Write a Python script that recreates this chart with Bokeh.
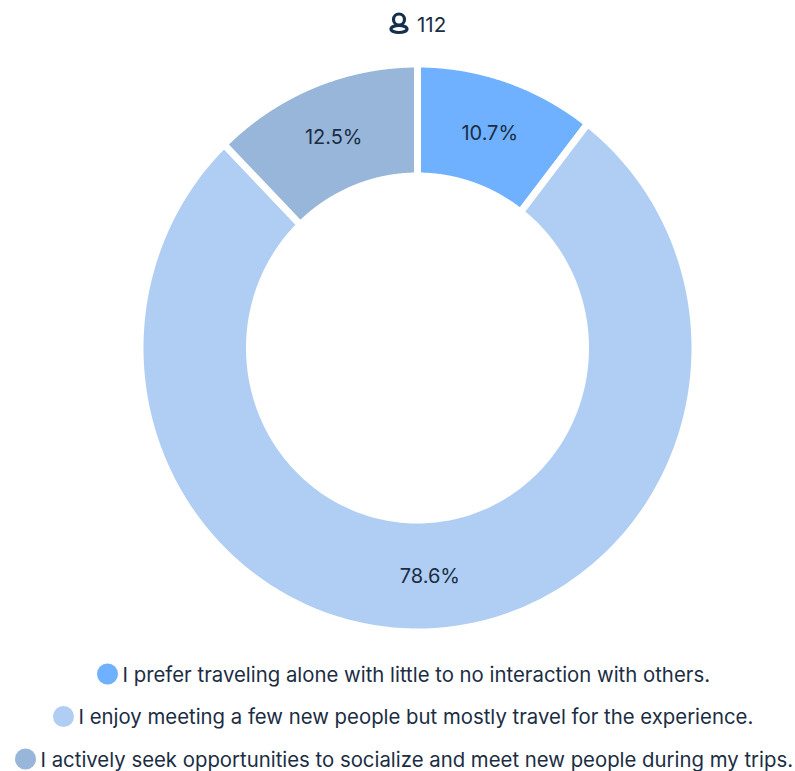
import numpy as np
from bokeh.core.properties import value
from bokeh.embed import file_html
from bokeh.models import Range1d
from bokeh.plotting import figure
from bokeh.resources import INLINE

labels = [
    "I prefer traveling alone with little to no interaction with others.",
    "I enjoy meeting a few new people but mostly travel for the experience.",
    "I actively seek opportunities to socialize and meet new people during my trips.",
]
shares = [10.7, 78.6, 12.5]
colors = ["#6FB1FF", "#B0CEF3", "#98B5DA"]
respondents = "112"
INK = "#1B2D43"
FONT = value("Inter")

W, H = 795, 771
CX, CY = 417, 347.5
GAP = 7
RX_OUT, RY_OUT = 274 + GAP / 2, 280.5 + GAP / 2
RX_IN, RY_IN = 171.5 - GAP / 2, 175.5 - GAP / 2

p = figure(width=W, height=H, output_backend="svg", toolbar_location=None,
           x_range=Range1d(0, W), y_range=Range1d(H, 0),
           min_border=0, outline_line_color=None)
p.axis.visible = False
p.grid.visible = False
p.background_fill_color = "white"
p.border_fill_color = "white"

# Donut sectors, clockwise from twelve o'clock, on a slightly tall ellipse.
fractions = np.array(shares) / sum(shares)
ends = np.cumsum(fractions) * 2 * np.pi
starts = ends - fractions * 2 * np.pi

xs, ys = [], []
for a0, a1 in zip(starts, ends):
    t = np.linspace(a0, a1, 240)
    xs.append(np.r_[CX + RX_OUT * np.sin(t), CX + RX_IN * np.sin(t[::-1])])
    ys.append(np.r_[CY - RY_OUT * np.cos(t), CY - RY_IN * np.cos(t[::-1])])
p.patches(xs, ys, fill_color=colors, line_color="white", line_width=GAP, line_join="miter")

# Percentage labels at the middle of each sector.
mid = (starts + ends) / 2
p.text(CX + (RX_OUT + RX_IN) / 2 * np.sin(mid), CY - (RY_OUT + RY_IN) / 2 * np.cos(mid) + 0.5,
       text=[f"{s}%" for s in shares], text_font=FONT, text_font_size="20px",
       text_color=INK, text_align="center", text_baseline="middle")

# Respondent count with a small person icon.
p.ellipse([398.5], [19], width=11, height=11, fill_color=None, line_color="#14304F", line_width=3.2)
p.ellipse([398.5], [28.5], width=16, height=7, fill_color=None, line_color="#14304F", line_width=3.2)
p.text([416.5], [24], text=[respondents], text_font=FONT, text_font_size="20.5px",
       text_color=INK, text_align="left", text_baseline="middle")

# Legend rows, one per line and centred as a block.
dot_x = [107, 63, 25]
row_y = [673.5, 716, 758.5]
p.scatter(dot_x, row_y, size=21, marker="circle", fill_color=colors, line_color=None)
p.text([x + 15 for x in dot_x], row_y, text=labels, text_font=FONT, text_font_size="20.35px",
       text_color=INK, text_align="left", text_baseline="middle")

open("out.html", "w").write(file_html(p, INLINE))
